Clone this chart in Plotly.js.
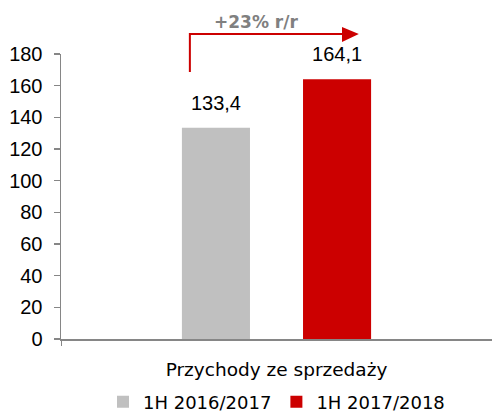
<!DOCTYPE html>
<html><head><meta charset="utf-8">
<script src="https://cdn.plot.ly/plotly-3.0.1.min.js"></script>
<style>html,body{margin:0;padding:0;background:#fff}#chart{width:492px;height:412px}</style>
</head><body><div id="chart"></div>
<script>
var categories = ['Przychody ze sprzedaży'];
var seriesNames = ['1H 2016/2017', '1H 2017/2018'];
var values1 = [133.4];
var values2 = [164.1];
var growthLabel = '+23% r/r';
var yTicks = [0, 20, 40, 60, 80, 100, 120, 140, 160, 180];

function tr(name, vals, color) {
  return {
    type: 'bar', name: name, x: categories, y: vals,
    marker: {color: color},
    texttemplate: '<span style="font-size:20px">%{y:.1f}</span><br> ',
    textposition: 'outside', constraintext: 'none', cliponaxis: false,
    textfont: {family: 'Liberation Sans, Arial, sans-serif', size: 10, color: '#000'},
    hoverinfo: 'skip'
  };
}
var data = [tr(seriesNames[0], values1, '#c0c0c0'), tr(seriesNames[1], values2, '#cc0000')];

var red = '#cc0000';
var layout = {
  width: 492, height: 412,
  margin: {l: 61, r: 0, t: 54, b: 73},
  separators: ', ',
  barmode: 'group', bargap: 0.438, bargroupgap: 0.438,
  paper_bgcolor: '#fff', plot_bgcolor: '#fff',
  showlegend: true,
  legend: {orientation: 'h', xref: 'paper', yref: 'container', x: 0.5, xanchor: 'center', y: 0.024, yanchor: 'middle',
    font: {family: 'DejaVu Sans, Tahoma, sans-serif', size: 18, color: '#000'},
    itemwidth: 30, tracegroupgap: 0},
  xaxis: {type: 'category', showline: true, linecolor: '#868686', linewidth: 1.5,
    ticks: 'outside', tickson: 'boundaries', ticklen: 5, tickcolor: '#868686',
    tickfont: {family: 'DejaVu Sans, Tahoma, sans-serif', size: 18.5, color: '#000'},
    ticklabelstandoff: 13, showgrid: false, zeroline: false, fixedrange: true, automargin: false},
  yaxis: {range: [0, 180], tickvals: yTicks, showline: true, linecolor: '#868686', linewidth: 1.5,
    ticks: 'outside', ticklen: 6, tickcolor: '#868686', tickwidth: 1.5,
    tickfont: {family: 'Liberation Sans, Arial, sans-serif', size: 20, color: '#000'},
    ticklabelstandoff: 7, showgrid: false, zeroline: false, fixedrange: true, automargin: false},
  shapes: [
    {type: 'path', xref: 'paper', yref: 'paper',
     path: 'M 0.299 0.937 L 0.299 1.070 L 0.654 1.070',
     line: {color: red, width: 2}},
    {type: 'path', xref: 'paper', yref: 'paper',
     path: 'M 0.652 1.095 L 0.691 1.070 L 0.652 1.042 Z',
     fillcolor: red, line: {color: red, width: 0}}
  ],
  annotations: [
    {xref: 'paper', yref: 'paper', x: 0.452, y: 1.112, text: '<b>' + growthLabel + '</b>',
     showarrow: false, xanchor: 'center', yanchor: 'middle',
     font: {family: 'DejaVu Sans, Tahoma, sans-serif', size: 17, color: '#808080'}}
  ]
};
Plotly.newPlot('chart', data, layout, {displayModeBar: false, staticPlot: true});
</script></body></html>
